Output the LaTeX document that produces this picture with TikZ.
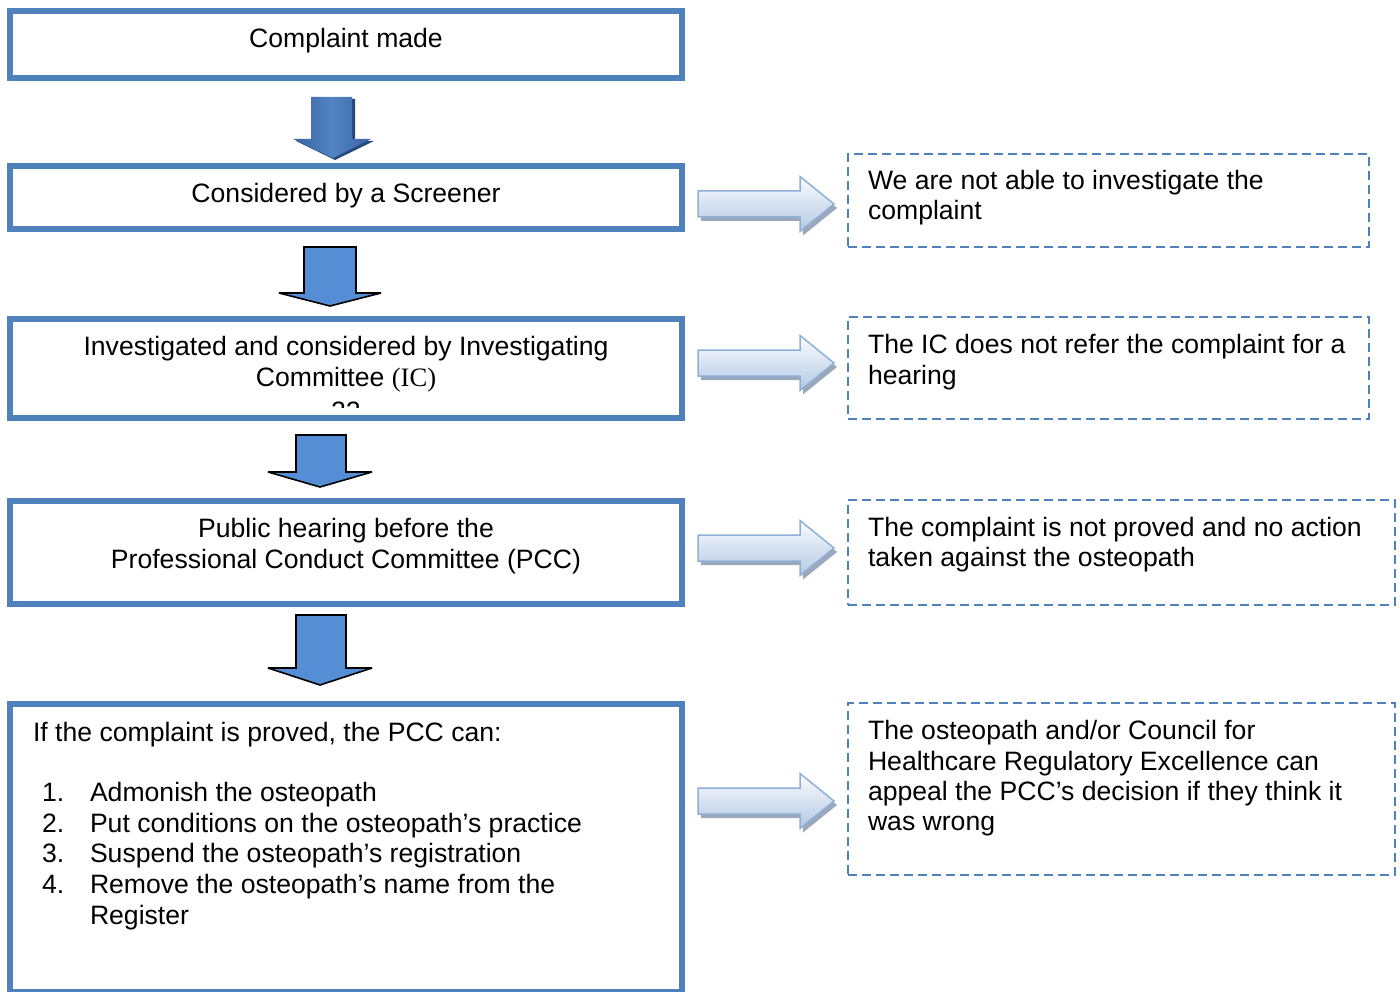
\documentclass[tikz,border=0pt]{standalone}
\usepackage{fontspec}
\setmainfont{Liberation Sans}
\newfontfamily\tnr{Liberation Serif}
\definecolor{boxblue}{HTML}{4F81BD}
\definecolor{arrblue}{HTML}{558ED5}
\definecolor{rarrline}{HTML}{8EB0D8}
\definecolor{rarrtop}{HTML}{FBFCFE}
\definecolor{rarrbot}{HTML}{B3C8E3}
\definecolor{rshadow}{HTML}{9AA8BA}
\definecolor{darrdark}{HTML}{3A63A2}
\definecolor{darrlight}{HTML}{5284C4}
\definecolor{darrshadow}{HTML}{27497A}
\newcommand{\rightblock}[1]{%
  \begin{scope}[shift={(0,#1)}]
    \fill[rshadow] (701,-9) -- (803,-9) -- (803,-23.5) -- (837,4) -- (803,31.5) -- (803,17) -- (701,17) -- cycle;
    \shade[top color=rarrtop, bottom color=rarrbot, draw=rarrline, line width=1.5pt, line join=miter]
      (698,-13) -- (800,-13) -- (800,-27.5) -- (834,0) -- (800,27.5) -- (800,13) -- (698,13) -- cycle;
  \end{scope}}
\tikzset{
  mainbox/.style={draw=boxblue, line width=6pt, fill=white, minimum width=672pt, inner sep=0pt},
  dashbox/.style={draw=boxblue, line width=2.5pt, dash pattern=on 9pt off 5pt, inner sep=0pt},
  txt/.style={inner sep=0pt, outer sep=0pt, font=\fontsize{26.6}{31}\selectfont},
  darrow/.style={fill=arrblue, draw=black, line width=1.6pt, line join=miter, miter limit=3}
}
\begin{document}
\begin{tikzpicture}[x=1pt,y=-1pt]
\useasboundingbox (0,0) rectangle (1400,992);
\begin{scope}
\clip (0,0) rectangle (1400,992);
% main boxes
\node[mainbox, minimum height=67pt] (b1) at (346,44.5) {};
\node[mainbox, minimum height=63pt] (b2) at (346,197.5) {};
\node[mainbox, minimum height=99pt] (b3) at (346,368.5) {};
\node[mainbox, minimum height=103pt] (b4) at (346,552.5) {};
\node[mainbox, minimum height=288pt] (b5) at (346,848) {};
\end{scope}
% dashed boxes
\node[dashbox, minimum width=521pt, minimum height=93pt] (d1) at (1108.5,200.5) {};
\node[dashbox, minimum width=521pt, minimum height=102pt] (d2) at (1108.5,368) {};
\node[dashbox, minimum width=547pt, minimum height=105pt] (d3) at (1121.5,552.5) {};
\node[dashbox, minimum width=547pt, minimum height=172pt] (d4) at (1121.5,789) {};
% texts in main boxes
\node[txt, anchor=base] (t1) at (346,48) {Complaint made};
\node[txt, anchor=base] (t2) at (346,203) {Considered by a Screener};
\node[txt, anchor=base] (t3a) at (346,355) {Investigated and considered by Investigating};
\node[txt, anchor=base] (t3b) at (346,386) {Committee {\tnr(IC)}};
\begin{scope}
\clip (300,395) rectangle (400,407);
\node[txt, anchor=base] (t3c) at (346,420) {22};
\end{scope}
\node[txt, anchor=base] (t4a) at (346,537) {Public hearing before the};
\node[txt, anchor=base] (t4b) at (346,568) {Professional Conduct Committee (PCC)};
\node[txt, anchor=base west] (t5) at (33,741) {If the complaint is proved, the PCC can:};
\node[txt, anchor=base west] (n1) at (42,801) {1.};
\node[txt, anchor=base west] (i1) at (90,801) {Admonish the osteopath};
\node[txt, anchor=base west] (n2) at (42,832) {2.};
\node[txt, anchor=base west] (i2) at (90,832) {Put conditions on the osteopath’s practice};
\node[txt, anchor=base west] (n3) at (42,862) {3.};
\node[txt, anchor=base west] (i3) at (90,862) {Suspend the osteopath’s registration};
\node[txt, anchor=base west] (n4) at (42,893) {4.};
\node[txt, anchor=base west] (i4) at (90,893) {Remove the osteopath’s name from the};
\node[txt, anchor=base west] (i4b) at (90,924) {Register};
% texts in dashed boxes
\node[txt, anchor=base west] (r1a) at (868,190) {We are not able to investigate the};
\node[txt, anchor=base west] (r1b) at (868,220) {complaint};
\node[txt, anchor=base west] (r2a) at (868,353) {The IC does not refer the complaint for a};
\node[txt, anchor=base west] (r2b) at (868,384) {hearing};
\node[txt, anchor=base west] (r3a) at (868,536) {The complaint is not proved and no action};
\node[txt, anchor=base west] (r3b) at (868,566) {taken against the osteopath};
\node[txt, anchor=base west] (r4a) at (868,739) {The osteopath and/or Council for};
\node[txt, anchor=base west] (r4b) at (868,770) {Healthcare Regulatory Excellence can};
\node[txt, anchor=base west] (r4c) at (868,800) {appeal the PCC’s decision if they think it};
\node[txt, anchor=base west] (r4d) at (868,830) {was wrong};
% first (3D) down arrow
\fill[darrshadow] (314,99) -- (355,99) -- (355,141) -- (374,141) -- (335,160) -- (296,141) -- (314,141) -- cycle;
\shade[left color=darrdark, right color=darrdark, middle color=darrlight]
  (311,97) -- (352,97) -- (352,139) -- (371,139) -- (333,158) -- (293,139) -- (311,139) -- cycle;
% other down arrows
\draw[darrow] (304,247) -- (356,247) -- (356,293) -- (381,293) -- (330,306) -- (279,293) -- (304,293) -- cycle;
\draw[darrow] (296,435) -- (346,435) -- (346,472) -- (372,472) -- (320,487) -- (268,472) -- (296,472) -- cycle;
\draw[darrow] (296,615) -- (346,615) -- (346,668) -- (372,668) -- (320,685) -- (268,668) -- (296,668) -- cycle;
% right arrows
\rightblock{204}
\rightblock{363}
\rightblock{548}
\rightblock{801}
\end{tikzpicture}
\end{document}
